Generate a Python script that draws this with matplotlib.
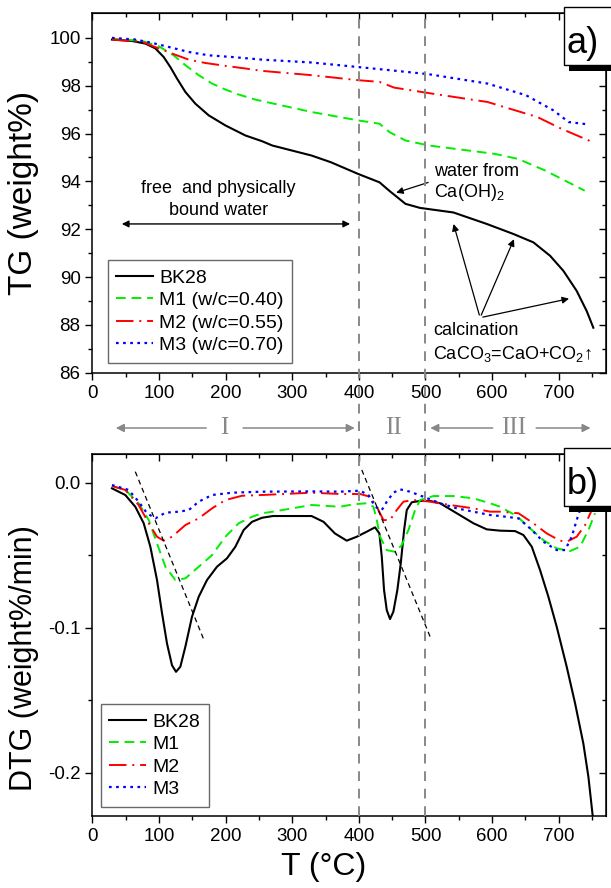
import numpy as np
import matplotlib
matplotlib.use("Agg")
import matplotlib.pyplot as plt
from matplotlib.patches import Rectangle
import matplotlib.transforms as mtransforms

plt.rcParams['font.family'] = ['Liberation Sans', 'DejaVu Sans']
plt.rcParams['mathtext.default'] = 'regular'

# --- TG data (weight%) ---
tg_bk28_T = [29.4, 59.5, 79.5, 94.5, 107, 117, 127, 139.5, 154.5, 174.6, 199.6, 229.6, 254.6, 270, 329, 358,
             399, 431, 446, 470, 491.9, 541.9, 592, 632, 662, 687, 707, 727, 742, 752]
tg_bk28 = [99.93, 99.87, 99.76, 99.56, 99.2, 98.78, 98.3, 97.74, 97.25, 96.76, 96.34, 95.92, 95.68, 95.5, 95.08,
           94.8, 94.31, 93.96, 93.6, 93.06, 92.89, 92.70, 92.22, 91.8, 91.45, 90.89, 90.26, 89.42, 88.58, 87.88]

tg_m1_T = [29.4, 75, 99.5, 122, 139.5, 159.6, 179.6, 199.6, 219.6, 244.6, 329, 399, 431, 446, 470, 505, 604,
           639, 680, 739]
tg_m1 = [99.97, 99.87, 99.65, 99.27, 98.86, 98.44, 98.09, 97.84, 97.63, 97.42, 96.9, 96.55, 96.41, 96.06, 95.71,
         95.5, 95.15, 94.94, 94.45, 93.61]

tg_m2_T = [29.4, 75, 99.5, 122, 144.6, 169.6, 199.6, 229.6, 254.6, 329, 399, 431, 453, 505, 593, 668, 704, 751]
tg_m2 = [99.93, 99.83, 99.56, 99.32, 99.09, 98.95, 98.83, 98.72, 98.62, 98.44, 98.23, 98.16, 97.92, 97.69,
         97.32, 96.69, 96.2, 95.64]

tg_m3_T = [29.4, 64.6, 89.6, 114.6, 144.6, 174.6, 209.6, 254.6, 329, 399, 446, 505, 593, 651, 692, 715, 745]
tg_m3 = [100.0, 99.93, 99.79, 99.62, 99.41, 99.27, 99.2, 99.09, 98.97, 98.78, 98.65, 98.48, 98.09, 97.6, 96.97,
         96.48, 96.38]

# --- DTG data (weight%/min) ---
dtg_bk28_T = [29.4, 49.4, 64.4, 77, 87, 97, 104.5, 112, 119.5, 125.5, 132, 139.5, 149.5, 159.6, 172, 187, 202,
              214.6, 227, 239.6, 254.6, 271, 329, 347, 364, 381.8, 396.8, 411.9, 424.3, 430.8, 434.4, 437.8,
              441.9, 446.8, 451.8, 457.8, 462.9, 467.9, 471.9, 479.4, 491.9, 506.9, 521.9, 547, 572, 592, 612,
              634.5, 647, 659.6, 672, 684.5, 697, 712, 724.6, 737, 744.6, 751.2]
dtg_bk28 = [-0.0039, -0.0085, -0.0166, -0.028, -0.0442, -0.0672, -0.090, -0.111, -0.126, -0.1305, -0.127,
            -0.1133, -0.0925, -0.0787, -0.0672, -0.058, -0.0522, -0.0442, -0.0327, -0.027, -0.0242, -0.023,
            -0.023, -0.027, -0.035, -0.040, -0.0373, -0.0338, -0.0308, -0.035, -0.0511, -0.074, -0.088,
            -0.0941, -0.089, -0.074, -0.0557, -0.0327, -0.0189, -0.0135, -0.0126, -0.0126, -0.0142, -0.0211,
            -0.028, -0.0322, -0.0331, -0.0334, -0.0361, -0.0442, -0.0603, -0.0787, -0.0994, -0.127, -0.1523,
            -0.180, -0.203, -0.2306]

dtg_m1_T = [29.4, 49.4, 69.4, 84.6, 97, 109.6, 124.6, 139.6, 159.6, 179.6, 199.6, 219.6, 239.6, 254.6, 271,
            329, 371.8, 391.8, 411.9, 421.9, 426.9, 431.9, 441.9, 454.4, 464.4, 474.4, 484.4, 491.9, 511.9,
            541.9, 572, 597, 612, 637, 657, 677, 697, 717, 732, 744.6, 754.6]
dtg_m1 = [-0.0023, -0.005, -0.0142, -0.0258, -0.0419, -0.058, -0.0672, -0.066, -0.058, -0.050, -0.0373, -0.028,
          -0.0235, -0.0211, -0.020, -0.0154, -0.0166, -0.0149, -0.0142, -0.0166, -0.0258, -0.0373, -0.0465,
          -0.0477, -0.043, -0.0327, -0.0189, -0.012, -0.0092, -0.0092, -0.0108, -0.0142, -0.0166, -0.023,
          -0.0315, -0.0396, -0.0453, -0.0472, -0.0442, -0.0327, -0.0211]

dtg_m2_T = [29.4, 49.4, 69.4, 84.6, 97, 107, 119.6, 139.6, 159.6, 179.6, 199.6, 224.6, 254.6, 329, 371.8,
            401.8, 416.8, 426.9, 436.9, 446.8, 456.8, 466.9, 481.9, 506.9, 537, 572, 597, 612, 639.6, 662, 682,
            702, 712, 727, 739.6, 749.6]
dtg_m2 = [-0.0023, -0.005, -0.0154, -0.028, -0.0373, -0.040, -0.0373, -0.0292, -0.0246, -0.0177, -0.012, -0.009,
          -0.0085, -0.0069, -0.0078, -0.0078, -0.0097, -0.0166, -0.0258, -0.0258, -0.0189, -0.0131, -0.012,
          -0.0131, -0.0154, -0.0177, -0.020, -0.020, -0.0211, -0.028, -0.035, -0.040, -0.0407, -0.0373,
          -0.0292, -0.0189]

dtg_m3_T = [29.4, 54.4, 69.4, 82, 94.6, 109.6, 129.6, 144.6, 159.6, 179.6, 209.6, 254.6, 329, 371.8, 401.8,
            414.4, 424.4, 434.4, 441.9, 451.8, 461.9, 476.9, 496.9, 521.9, 547, 572, 597, 612, 639.6, 657, 677,
            697, 709.6, 719.6, 727, 732, 740]
dtg_m3 = [-0.0016, -0.005, -0.0131, -0.0211, -0.0246, -0.0207, -0.020, -0.0189, -0.0131, -0.0085, -0.0069,
          -0.0062, -0.006, -0.0062, -0.0055, -0.0085, -0.0166, -0.0189, -0.0131, -0.0069, -0.0046, -0.0062,
          -0.0097, -0.0142, -0.0177, -0.020, -0.0223, -0.023, -0.0246, -0.0315, -0.0407, -0.0465, -0.0465,
          -0.0373, -0.0258, -0.0189, -0.016]

# tangent guide lines in DTG
tan1_T = [64.4, 168.6]
tan1 = [0.0076, -0.1098]
tan2_T = [404.4, 507]
tan2 = [0.0088, -0.1063]

tg_labels = ['BK28', 'M1 (w/c=0.40)', 'M2 (w/c=0.55)', 'M3 (w/c=0.70)']
dtg_labels = ['BK28', 'M1', 'M2', 'M3']
regions = ['I', 'II', 'III']
region_x = [198, 452, 633]

colors = ['black', '#00ee00', '#ff0000', '#0000ff']
styles = ['-', (0, (5, 3)), (0, (9, 3, 1, 3)), (0, (1.2, 2))]
widths = [1.5, 1.4, 1.4, 1.6]

W, H = 611, 888
fig = plt.figure(figsize=(W / 100, H / 100), dpi=100)
ax1 = fig.add_axes([92.4 / W, 1 - 372.7 / H, 513.6 / W, 359.7 / H])
ax2 = fig.add_axes([92.4 / W, 1 - 816 / H, 513.6 / W, 362 / H])

tg_series = [(tg_bk28_T, tg_bk28), (tg_m1_T, tg_m1), (tg_m2_T, tg_m2), (tg_m3_T, tg_m3)]
dtg_series = [(dtg_bk28_T, dtg_bk28), (dtg_m1_T, dtg_m1), (dtg_m2_T, dtg_m2), (dtg_m3_T, dtg_m3)]

for (x, y), c, s, w, lab in zip(tg_series, colors, styles, widths, tg_labels):
    ax1.plot(x, y, color=c, linestyle=s, linewidth=w, label=lab)
for (x, y), c, s, w, lab in zip(dtg_series, colors, styles, widths, dtg_labels):
    ax2.plot(x, y, color=c, linestyle=s, linewidth=w, label=lab)

ax2.plot(tan1_T, tan1, color='black', linestyle=(0, (4, 3)), linewidth=0.9)
ax2.plot(tan2_T, tan2, color='black', linestyle=(0, (4, 3)), linewidth=0.9)

ax1.set_xlim(0, 771)
ax1.set_ylim(86, 101.04)
ax1.set_yticks(np.arange(86, 101, 2))
ax1.set_yticks(np.arange(86, 101, 1), minor=True)
ax2.set_xlim(0, 771)
ax2.set_ylim(-0.23, 0.0198)
ax2.set_yticks([-0.2, -0.1, 0.0])
ax2.set_yticklabels(['-0.2', '-0.1', '0.0'])
ax2.set_yticks(np.arange(-0.2, 0.01, 0.05), minor=True)

for ax in (ax1, ax2):
    ax.set_xticks(np.arange(0, 701, 100))
    ax.set_xticks(np.arange(0, 751, 50), minor=True)
    ax.tick_params(which='both', direction='out', labelsize=13.5, width=1)
    ax.tick_params(which='major', length=5)
    ax.tick_params(which='minor', length=3)
    for sp in ax.spines.values():
        sp.set_linewidth(1.1)
    top = ax.secondary_xaxis('top')
    top.set_xticks(np.arange(0, 701, 100))
    top.set_xticks(np.arange(0, 751, 50), minor=True)
    top.tick_params(which='both', direction='in', labeltop=False, width=1)
    top.tick_params(which='major', length=5)
    top.tick_params(which='minor', length=3)
    right = ax.secondary_yaxis('right')
    right.set_yticks(ax.get_yticks())
    right.set_yticks(ax.get_yticks(minor=True), minor=True)
    right.tick_params(which='both', direction='in', labelright=False, width=1)
    right.tick_params(which='major', length=5)
    right.tick_params(which='minor', length=3)

leg_kw = dict(loc='lower left', frameon=True, fancybox=False, edgecolor='#444444', fontsize=14,
              handlelength=1.9, handletextpad=0.3, borderaxespad=0, labelspacing=0.25, borderpad=0.45)
l1 = ax1.legend(bbox_to_anchor=(0.0296, 0.027), **leg_kw)
l1.get_frame().set_linewidth(1)
l2 = ax2.legend(bbox_to_anchor=(0.0158, 0.025), **leg_kw)
l2.get_frame().set_linewidth(1)

# axis labels
fig.text(24 / W, 1 - 193 / H, 'TG (weight%)', rotation=90, ha='center', va='center', fontsize=24)
fig.text(24 / W, 1 - 658 / H, 'DTG (weight%/min)', rotation=90, ha='center', va='center', fontsize=22)
fig.text(324 / W, 1 - 867 / H, 'T (°C)', ha='center', va='center', fontsize=23)

# vertical region lines across both panels
trans = mtransforms.blended_transform_factory(ax1.transData, fig.transFigure)
for xv in (400, 500):
    fig.add_artist(plt.Line2D([xv, xv], [1 - 816 / H, 1 - 13 / H], transform=trans, color='#888888',
                              linestyle=(0, (5, 4)), linewidth=1.4, zorder=0.5))

# region arrows and labels (gap between panels)
yr = 1 - 428 / H
arr_kw = dict(arrowstyle='-|>', color='#888888', lw=1.1, mutation_scale=12)
for x_head, x_tail in [(31, 175), (398, 222), (503, 605), (752, 662)]:
    ax1.annotate('', xy=(x_head, yr), xytext=(x_tail, yr), xycoords=trans, textcoords=trans,
                 arrowprops=arr_kw, annotation_clip=False)
for lab, xr in zip(regions, region_x):
    fig.text(xr, yr, lab, transform=trans, ha='center', va='center', fontsize=18,
             family='Liberation Serif', color='#888888')

# annotations on TG panel
ax1.text(189, 93.7, 'free  and physically', ha='center', va='center', fontsize=13)
ax1.text(189, 92.77, 'bound water', ha='center', va='center', fontsize=13)
ax1.annotate('', xy=(40, 92.22), xytext=(391, 92.22),
             arrowprops=dict(arrowstyle='<|-|>', color='black', lw=1.0, mutation_scale=10))
ax1.text(513, 94.42, 'water from', ha='left', va='center', fontsize=13)
ax1.text(513, 93.54, 'Ca(OH)$_2$', ha='left', va='center', fontsize=13)
ax1.annotate('', xy=(452, 93.49), xytext=(508, 93.99),
             arrowprops=dict(arrowstyle='-|>', color='black', lw=0.9, mutation_scale=10))
ax1.text(512, 87.77, 'calcination', ha='left', va='center', fontsize=13)
ax1.text(512, 86.79, 'CaCO$_3$=CaO+CO$_2$\u2191', ha='left', va='center', fontsize=13)
for tx, ty in [(541, 92.33), (634.5, 91.69), (719.6, 89.12)]:
    ax1.annotate('', xy=(tx, ty), xytext=(582, 88.3),
                 arrowprops=dict(arrowstyle='-|>', color='black', lw=0.9, mutation_scale=10))

# panel tags a) and b)
for ytop, tag in [(7.3, 'a)'), (448.3, 'b)')]:
    fig.add_artist(Rectangle((564 / W, 1 - (ytop + 58) / H), 60 / W, 58 / H, transform=fig.transFigure,
                             facecolor='white', edgecolor='black', linewidth=1, zorder=5))
    fig.add_artist(Rectangle((569 / W, 1 - (ytop + 64) / H), 60 / W, 6 / H, transform=fig.transFigure,
                             facecolor='black', edgecolor='none', zorder=5))
    fig.text(567 / W, 1 - (ytop + 36) / H, tag, ha='left', va='center', fontsize=26, zorder=6)

fig.savefig('out.png', dpi=100)
plt.close(fig)
